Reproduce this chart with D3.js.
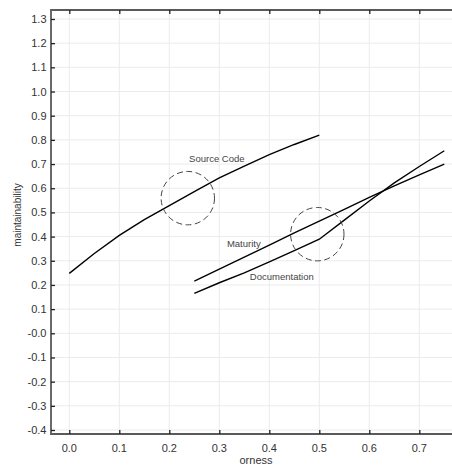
<!DOCTYPE html>
<html>
<head>
<meta charset="utf-8">
<script src="https://cdn.jsdelivr.net/npm/d3@7"></script>
<style>
  body { margin: 0; background: #fff; }
  text { font-family: "Liberation Sans", Arial, sans-serif; }
</style>
</head>
<body>
<script>
// values
var xTicks = [0, 0.1, 0.2, 0.3, 0.4, 0.5, 0.6, 0.7];
var yTicks = [1.3, 1.2, 1.1, 1.0, 0.9, 0.8, 0.7, 0.6, 0.5, 0.4, 0.3, 0.2, 0.1, 0, -0.1, -0.2, -0.3, -0.4];
var yTickLabels = ["1.3", "1.2", "1.1", "1.0", "0.9", "0.8", "0.7", "0.6", "0.5", "0.4", "0.3", "0.2", "0.1", "-0.0", "-0.1", "-0.2", "-0.3", "-0.4"];

var sourceX = [0, 0.05, 0.1, 0.15, 0.2, 0.25, 0.3, 0.35, 0.4, 0.45, 0.5];
var sourceY = [0.248, 0.33, 0.405, 0.47, 0.528, 0.586, 0.643, 0.691, 0.739, 0.781, 0.82];

var maturityX = [0.25, 0.3, 0.35, 0.4, 0.45, 0.5, 0.55, 0.6, 0.65, 0.7, 0.75];
var maturityY = [0.216, 0.265, 0.315, 0.365, 0.415, 0.464, 0.513, 0.562, 0.61, 0.655, 0.70];

var docX = [0.25, 0.3, 0.35, 0.4, 0.45, 0.5, 0.55, 0.6, 0.65, 0.7, 0.75];
var docY = [0.165, 0.209, 0.25, 0.295, 0.342, 0.389, 0.468, 0.547, 0.622, 0.69, 0.755];

var labelNames = ["Source Code", "Maturity", "Documentation"];
var labelX = [0.295, 0.349, 0.425];
var labelY = [0.708, 0.355, 0.22];

var circleX = [0.237, 0.496];
var circleY = [0.559, 0.41];

var W = 452, H = 467;
// note: "top" is taken by window.top, so plot edges get their own names
var plotL = 51, plotR = 452, plotT = 10, plotB = 434;

var x = d3.scaleLinear().domain([0, 0.7]).range([69.3, 419.3]);
var y = d3.scaleLinear().domain([-0.4, 1.3]).range([430, 19]);

var svg = d3.select("body").append("svg")
  .attr("width", W)
  .attr("height", H);

// grid
svg.selectAll("line.vg").data(xTicks).enter().append("line")
  .attr("x1", function (d) { return x(d); })
  .attr("x2", function (d) { return x(d); })
  .attr("y1", plotT).attr("y2", plotB)
  .style("stroke", "#ebebeb").style("stroke-width", 1);

svg.selectAll("line.hg").data(yTicks).enter().append("line")
  .attr("x1", plotL).attr("x2", plotR)
  .attr("y1", function (d) { return y(d); })
  .attr("y2", function (d) { return y(d); })
  .style("stroke", "#ebebeb").style("stroke-width", 1);

// frame (top, left, bottom)
svg.append("path")
  .attr("d", "M" + plotR + "," + plotT + "H" + plotL + "V" + plotB + "H" + plotR)
  .style("fill", "none").style("stroke", "#5a5a5a").style("stroke-width", 1.8);

// ticks pointing inward
var xAxisTop = d3.axisBottom(x).tickValues(xTicks).tickSize(4).tickFormat("");
svg.append("g").attr("transform", "translate(0," + plotT + ")").call(xAxisTop)
  .call(function (g) { g.select(".domain").remove(); });

var xAxisBot = d3.axisTop(x).tickValues(xTicks).tickSize(4).tickFormat("");
svg.append("g").attr("transform", "translate(0," + plotB + ")").call(xAxisBot)
  .call(function (g) { g.select(".domain").remove(); });

var yAxis = d3.axisRight(y).tickValues(yTicks).tickSize(4).tickFormat("");
svg.append("g").attr("transform", "translate(" + plotL + ",0)").call(yAxis)
  .call(function (g) { g.select(".domain").remove(); });

svg.selectAll(".tick line").style("stroke", "#222").style("stroke-width", 1.3);

// tick labels
svg.selectAll("text.xt").data(xTicks).enter().append("text")
  .attr("x", function (d) { return x(d); })
  .attr("y", 451.5)
  .attr("text-anchor", "middle")
  .style("font-size", "11px").style("fill", "#333")
  .text(function (d) { return d3.format(".1f")(d); });

svg.selectAll("text.yt").data(yTicks).enter().append("text")
  .attr("x", 46.5)
  .attr("y", function (d) { return y(d) + 4; })
  .attr("text-anchor", "end")
  .style("font-size", "11px").style("fill", "#333")
  .text(function (d, i) { return yTickLabels[i]; });

// axis titles
svg.append("text")
  .attr("x", 256).attr("y", 464)
  .attr("text-anchor", "middle")
  .style("font-size", "11px").style("fill", "#333")
  .text("orness");

svg.append("text")
  .attr("transform", "translate(20.5,215) rotate(-90)")
  .attr("text-anchor", "middle")
  .style("font-size", "10px").style("fill", "#333")
  .text("maintainability");

// curves
var line = d3.line()
  .x(function (d) { return x(d[0]); })
  .y(function (d) { return y(d[1]); });

var series = [d3.zip(sourceX, sourceY), d3.zip(maturityX, maturityY), d3.zip(docX, docY)];

svg.selectAll("path.curve").data(series).enter().append("path")
  .attr("class", "curve")
  .attr("d", line)
  .style("fill", "none").style("stroke", "#000").style("stroke-width", 1.4);

// dashed circles
svg.selectAll("circle").data(d3.zip(circleX, circleY)).enter().append("circle")
  .attr("cx", function (d) { return x(d[0]); })
  .attr("cy", function (d) { return y(d[1]); })
  .attr("r", 26.7)
  .style("fill", "none").style("stroke", "#444").style("stroke-width", 1)
  .style("stroke-dasharray", "6,3.5");

// curve labels
svg.selectAll("text.lab").data(labelNames).enter().append("text")
  .attr("x", function (d, i) { return x(labelX[i]); })
  .attr("y", function (d, i) { return y(labelY[i]); })
  .attr("text-anchor", "middle")
  .style("font-size", "9.5px").style("fill", "#444")
  .text(function (d) { return d; });
</script>
</body>
</html>
